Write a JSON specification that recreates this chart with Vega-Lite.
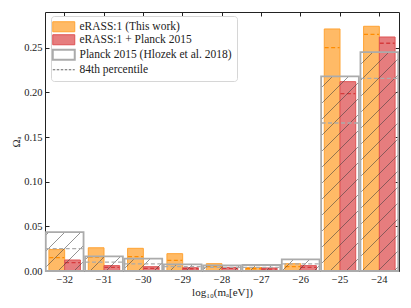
{
  "$schema": "https://vega.github.io/schema/vega-lite/v6.json",
  "width": 354,
  "height": 259,
  "autosize": {"type": "none"},
  "padding": {"left": 45, "top": 12, "right": 12, "bottom": 37},
  "background": "white",
  "config": {
    "font": "Liberation Serif",
    "view": {"stroke": "#222", "strokeWidth": 1},
    "axis": {
      "domain": false,
      "grid": false,
      "tickColor": "#222",
      "tickSize": -4,
      "labelFont": "Liberation Serif",
      "labelFontSize": 10.5,
      "labelColor": "#222",
      "titleFont": "Liberation Serif",
      "titleFontWeight": "normal",
      "titleFontSize": 11,
      "titleColor": "#222"
    },
    "legend": {
      "labelFont": "Liberation Serif",
      "labelFontSize": 11.5,
      "labelColor": "#222",
      "labelLimit": 300
    }
  },
  "resolve": {"axis": {"x": "independent", "y": "independent"}},
  "data": {
    "values": [
      {"m": -32, "series": "eRASS:1 (This work)", "value": 0.024, "p84": 0.015},
      {"m": -31, "series": "eRASS:1 (This work)", "value": 0.026, "p84": 0.0157},
      {"m": -30, "series": "eRASS:1 (This work)", "value": 0.0254, "p84": 0.016},
      {"m": -29, "series": "eRASS:1 (This work)", "value": 0.0194, "p84": 0.012},
      {"m": -28, "series": "eRASS:1 (This work)", "value": 0.0082, "p84": 0.005},
      {"m": -27, "series": "eRASS:1 (This work)", "value": 0.004, "p84": 0.0025},
      {"m": -26, "series": "eRASS:1 (This work)", "value": 0.0082, "p84": 0.005},
      {"m": -25, "series": "eRASS:1 (This work)", "value": 0.271, "p84": 0.25},
      {"m": -24, "series": "eRASS:1 (This work)", "value": 0.274, "p84": 0.265},
      {"m": -32, "series": "eRASS:1 + Planck 2015", "value": 0.0123, "p84": 0.0093},
      {"m": -31, "series": "eRASS:1 + Planck 2015", "value": 0.006, "p84": 0.004},
      {"m": -30, "series": "eRASS:1 + Planck 2015", "value": 0.0048, "p84": 0.003},
      {"m": -29, "series": "eRASS:1 + Planck 2015", "value": 0.0037, "p84": 0.0025},
      {"m": -28, "series": "eRASS:1 + Planck 2015", "value": 0.004, "p84": 0.003},
      {"m": -27, "series": "eRASS:1 + Planck 2015", "value": 0.0034, "p84": 0.002},
      {"m": -26, "series": "eRASS:1 + Planck 2015", "value": 0.006, "p84": 0.004},
      {"m": -25, "series": "eRASS:1 + Planck 2015", "value": 0.212, "p84": 0.1985},
      {"m": -24, "series": "eRASS:1 + Planck 2015", "value": 0.262, "p84": 0.255},
      {"m": -32, "series": "Planck 2015 (Hlozek et al. 2018)", "value": 0.0436, "p84": 0.025},
      {"m": -31, "series": "Planck 2015 (Hlozek et al. 2018)", "value": 0.0164, "p84": 0.010},
      {"m": -30, "series": "Planck 2015 (Hlozek et al. 2018)", "value": 0.0138, "p84": 0.008},
      {"m": -29, "series": "Planck 2015 (Hlozek et al. 2018)", "value": 0.0075, "p84": 0.005},
      {"m": -28, "series": "Planck 2015 (Hlozek et al. 2018)", "value": 0.0063, "p84": 0.004},
      {"m": -27, "series": "Planck 2015 (Hlozek et al. 2018)", "value": 0.0067, "p84": 0.004},
      {"m": -26, "series": "Planck 2015 (Hlozek et al. 2018)", "value": 0.013, "p84": 0.008},
      {"m": -25, "series": "Planck 2015 (Hlozek et al. 2018)", "value": 0.218, "p84": 0.1657},
      {"m": -24, "series": "Planck 2015 (Hlozek et al. 2018)", "value": 0.245, "p84": 0.2157}
    ]
  },
  "encoding": {
    "x": {
      "field": "m",
      "type": "ordinal",
      "sort": "ascending",
      "scale": {"paddingInner": 0, "paddingOuter": 0},
      "axis": null
    },
    "y": {
      "field": "value",
      "type": "quantitative",
      "scale": {"domain": [0, 0.29], "nice": false},
      "axis": null
    }
  },
  "layer": [
    {
      "transform": [{"filter": "datum.series != 'Planck 2015 (Hlozek et al. 2018)'"}],
      "mark": {"type": "bar", "strokeWidth": 1},
      "encoding": {
        "x": {
          "field": "m",
          "type": "ordinal",
          "sort": "ascending",
          "axis": {
            "title": "log₁₀(mₐ[eV])",
            "labelAngle": 0,
            "bandPosition": 0.5,
            "labelPadding": 7,
            "titlePadding": 2,
            "labelExpr": "replace(datum.label, '-', '−')"
          }
        },
        "y": {
          "field": "value",
          "type": "quantitative",
          "axis": {
            "title": "Ωₐ",
            "values": [0, 0.05, 0.1, 0.15, 0.2, 0.25],
            "format": ".2f",
            "labelPadding": 7,
            "titlePadding": 2
          }
        },
        "xOffset": {
          "field": "series",
          "type": "nominal",
          "scale": {"domain": ["eRASS:1 (This work)", "eRASS:1 + Planck 2015"], "paddingInner": 0, "paddingOuter": 0.25}
        },
        "fill": {
          "field": "series",
          "type": "nominal",
          "scale": {
            "domain": ["eRASS:1 (This work)", "eRASS:1 + Planck 2015", "Planck 2015 (Hlozek et al. 2018)", "84th percentile"],
            "range": ["#ffba66", "#e67d7e", "rgba(255,255,255,0)", "rgba(255,255,255,0)"]
          },
          "legend": {
            "title": null,
            "orient": "none",
            "legendX": 6,
            "legendY": 4,
            "symbolSize": 100,
            "symbolOffset": 2,
            "symbolStrokeWidth": 1,
            "labelOffset": 10,
            "rowPadding": -2,
            "padding": 5,
            "strokeColor": "#d6d6d6",
            "fillColor": "rgba(255,255,255,0.85)",
            "cornerRadius": 3,
            "encode": {
              "symbols": {
                "update": {
                  "shape": {"signal": "datum.value == '84th percentile' ? 'M-2.2,0H2.2' : 'M-2.2,-1H2.2V1H-2.2Z'"},
                  "fill": {"signal": "datum.value == 'Planck 2015 (Hlozek et al. 2018)' ? {gradient: 'linear', x1: 0, y1: 0, x2: 1.2055, y2: 0.5479, stops: [{offset: 0.469, color: 'rgba(60,60,60,0)'}, {offset: 0.5, color: 'rgba(60,60,60,0.8)'}, {offset: 0.531, color: 'rgba(60,60,60,0)'}]} : scale('fill', datum.value)"},
                  "stroke": {"signal": "datum.value == 'eRASS:1 (This work)' ? '#ffa333' : datum.value == 'eRASS:1 + Planck 2015' ? '#de5253' : datum.value == '84th percentile' ? '#666666' : '#ababab'"},
                  "strokeWidth": {"signal": "datum.value == 'Planck 2015 (Hlozek et al. 2018)' ? 2 : 1"},
                  "strokeDash": {"signal": "datum.value == '84th percentile' ? [2.5, 1.5] : []"}
                }
              }
            }
          }
        },
        "stroke": {
          "field": "series",
          "type": "nominal",
          "scale": {
            "domain": ["eRASS:1 (This work)", "eRASS:1 + Planck 2015"],
            "range": ["#ffa333", "#de5253"]
          },
          "legend": null
        }
      }
    },
    {
      "transform": [{"filter": "datum.series == 'eRASS:1 (This work)'"}],
      "mark": {"type": "rule", "color": "#ff8c00", "strokeWidth": 1.3, "strokeDash": [4, 2.5]},
      "encoding": {
        "x": {"field": "m", "type": "ordinal", "bandPosition": 0.11, "axis": null},
        "x2": {"field": "m", "bandPosition": 0.49},
        "y": {"field": "p84", "type": "quantitative", "axis": null}
      }
    },
    {
      "transform": [{"filter": "datum.series == 'eRASS:1 + Planck 2015'"}],
      "mark": {"type": "rule", "color": "#d63a3c", "strokeWidth": 1.3, "strokeDash": [4, 2.5]},
      "encoding": {
        "x": {"field": "m", "type": "ordinal", "bandPosition": 0.51, "axis": null},
        "x2": {"field": "m", "bandPosition": 0.89},
        "y": {"field": "p84", "type": "quantitative", "axis": null}
      }
    },
    {
      "transform": [{"filter": "datum.series == 'Planck 2015 (Hlozek et al. 2018)'"}],
      "mark": {"type": "bar", "stroke": "#ababab", "strokeWidth": 1.8, "width": {"band": 0.96}},
      "encoding": {
        "x": {
          "field": "m",
          "type": "ordinal",
          "sort": "ascending",
          "axis": {"orient": "top", "labels": false, "title": null, "bandPosition": 0.5}
        },
        "y": {
          "field": "value",
          "type": "quantitative",
          "axis": {"orient": "right", "labels": false, "title": null, "values": [0, 0.05, 0.1, 0.15, 0.2, 0.25]}
        },
        "fill": {
          "condition": [
            {"test": "datum.m == -32", "value": {"gradient": "linear", "x1": 0, "y1": 0, "x2": 0.9844, "y2": 1.0152, "stops": [
              {"offset": 0.0281, "color": "rgba(60,60,60,0)"}, {"offset": 0.0411, "color": "rgba(60,60,60,0.55)"}, {"offset": 0.0541, "color": "rgba(60,60,60,0)"},
              {"offset": 0.2367, "color": "rgba(60,60,60,0)"}, {"offset": 0.2497, "color": "rgba(60,60,60,0.55)"}, {"offset": 0.2627, "color": "rgba(60,60,60,0)"},
              {"offset": 0.4453, "color": "rgba(60,60,60,0)"}, {"offset": 0.4583, "color": "rgba(60,60,60,0.55)"}, {"offset": 0.4713, "color": "rgba(60,60,60,0)"},
              {"offset": 0.6539, "color": "rgba(60,60,60,0)"}, {"offset": 0.6669, "color": "rgba(60,60,60,0.55)"}, {"offset": 0.6799, "color": "rgba(60,60,60,0)"},
              {"offset": 0.8625, "color": "rgba(60,60,60,0)"}, {"offset": 0.8755, "color": "rgba(60,60,60,0.55)"}, {"offset": 0.8885, "color": "rgba(60,60,60,0)"}
            ]}},
            {"test": "datum.m == -31", "value": {"gradient": "linear", "x1": 0, "y1": 0, "x2": 1.2064, "y2": 0.4681, "stops": [
              {"offset": 0.0483, "color": "rgba(60,60,60,0)"}, {"offset": 0.0674, "color": "rgba(60,60,60,0.55)"}, {"offset": 0.0865, "color": "rgba(60,60,60,0)"},
              {"offset": 0.3535, "color": "rgba(60,60,60,0)"}, {"offset": 0.3726, "color": "rgba(60,60,60,0.55)"}, {"offset": 0.3917, "color": "rgba(60,60,60,0)"},
              {"offset": 0.6588, "color": "rgba(60,60,60,0)"}, {"offset": 0.6779, "color": "rgba(60,60,60,0.55)"}, {"offset": 0.6970, "color": "rgba(60,60,60,0)"}
            ]}},
            {"test": "datum.m == -30", "value": {"gradient": "linear", "x1": 0, "y1": 0, "x2": 1.1987, "y2": 0.3911, "stops": [
              {"offset": 0.1771, "color": "rgba(60,60,60,0)"}, {"offset": 0.1971, "color": "rgba(60,60,60,0.55)"}, {"offset": 0.2171, "color": "rgba(60,60,60,0)"},
              {"offset": 0.4966, "color": "rgba(60,60,60,0)"}, {"offset": 0.5166, "color": "rgba(60,60,60,0.55)"}, {"offset": 0.5366, "color": "rgba(60,60,60,0)"},
              {"offset": 0.8161, "color": "rgba(60,60,60,0)"}, {"offset": 0.8361, "color": "rgba(60,60,60,0.55)"}, {"offset": 0.8561, "color": "rgba(60,60,60,0)"}
            ]}},
            {"test": "datum.m == -29", "value": {"gradient": "linear", "x1": 0, "y1": 0, "x2": 1.1415, "y2": 0.2025, "stops": [
              {"offset": 0.2679, "color": "rgba(60,60,60,0)"}, {"offset": 0.2904, "color": "rgba(60,60,60,0.55)"}, {"offset": 0.3129, "color": "rgba(60,60,60,0)"},
              {"offset": 0.6277, "color": "rgba(60,60,60,0)"}, {"offset": 0.6502, "color": "rgba(60,60,60,0.55)"}, {"offset": 0.6727, "color": "rgba(60,60,60,0)"}
            ]}},
            {"test": "datum.m == -28", "value": {"gradient": "linear", "x1": 0, "y1": 0, "x2": 1.1241, "y2": 0.1676, "stops": [
              {"offset": 0.0809, "color": "rgba(60,60,60,0)"}, {"offset": 0.1039, "color": "rgba(60,60,60,0.55)"}, {"offset": 0.1269, "color": "rgba(60,60,60,0)"},
              {"offset": 0.4497, "color": "rgba(60,60,60,0)"}, {"offset": 0.4727, "color": "rgba(60,60,60,0.55)"}, {"offset": 0.4957, "color": "rgba(60,60,60,0)"},
              {"offset": 0.8184, "color": "rgba(60,60,60,0)"}, {"offset": 0.8414, "color": "rgba(60,60,60,0.55)"}, {"offset": 0.8644, "color": "rgba(60,60,60,0)"}
            ]}},
            {"test": "datum.m == -27", "value": {"gradient": "linear", "x1": 0, "y1": 0, "x2": 1.1300, "y2": 0.1790, "stops": [
              {"offset": 0.2864, "color": "rgba(60,60,60,0)"}, {"offset": 0.3093, "color": "rgba(60,60,60,0.55)"}, {"offset": 0.3322, "color": "rgba(60,60,60,0)"},
              {"offset": 0.6522, "color": "rgba(60,60,60,0)"}, {"offset": 0.6751, "color": "rgba(60,60,60,0.55)"}, {"offset": 0.6980, "color": "rgba(60,60,60,0)"}
            ]}},
            {"test": "datum.m == -26", "value": {"gradient": "linear", "x1": 0, "y1": 0, "x2": 1.1945, "y2": 0.3673, "stops": [
              {"offset": 0.2191, "color": "rgba(60,60,60,0)"}, {"offset": 0.2394, "color": "rgba(60,60,60,0.55)"}, {"offset": 0.2597, "color": "rgba(60,60,60,0)"},
              {"offset": 0.5432, "color": "rgba(60,60,60,0)"}, {"offset": 0.5635, "color": "rgba(60,60,60,0.55)"}, {"offset": 0.5838, "color": "rgba(60,60,60,0)"},
              {"offset": 0.8673, "color": "rgba(60,60,60,0)"}, {"offset": 0.8876, "color": "rgba(60,60,60,0.55)"}, {"offset": 0.9079, "color": "rgba(60,60,60,0)"}
            ]}},
            {"test": "datum.m == -25", "value": {"gradient": "linear", "x1": 0, "y1": 0, "x2": 0.22316, "y2": 1.15066, "stops": [
              {"offset": 0.0455, "color": "rgba(60,60,60,0)"}, {"offset": 0.0498, "color": "rgba(60,60,60,0.55)"}, {"offset": 0.0541, "color": "rgba(60,60,60,0)"},
              {"offset": 0.1143, "color": "rgba(60,60,60,0)"}, {"offset": 0.1186, "color": "rgba(60,60,60,0.55)"}, {"offset": 0.1229, "color": "rgba(60,60,60,0)"},
              {"offset": 0.1832, "color": "rgba(60,60,60,0)"}, {"offset": 0.1875, "color": "rgba(60,60,60,0.55)"}, {"offset": 0.1918, "color": "rgba(60,60,60,0)"},
              {"offset": 0.2520, "color": "rgba(60,60,60,0)"}, {"offset": 0.2563, "color": "rgba(60,60,60,0.55)"}, {"offset": 0.2606, "color": "rgba(60,60,60,0)"},
              {"offset": 0.3208, "color": "rgba(60,60,60,0)"}, {"offset": 0.3251, "color": "rgba(60,60,60,0.55)"}, {"offset": 0.3294, "color": "rgba(60,60,60,0)"},
              {"offset": 0.3897, "color": "rgba(60,60,60,0)"}, {"offset": 0.3940, "color": "rgba(60,60,60,0.55)"}, {"offset": 0.3983, "color": "rgba(60,60,60,0)"},
              {"offset": 0.4585, "color": "rgba(60,60,60,0)"}, {"offset": 0.4628, "color": "rgba(60,60,60,0.55)"}, {"offset": 0.4671, "color": "rgba(60,60,60,0)"},
              {"offset": 0.5273, "color": "rgba(60,60,60,0)"}, {"offset": 0.5316, "color": "rgba(60,60,60,0.55)"}, {"offset": 0.5359, "color": "rgba(60,60,60,0)"},
              {"offset": 0.5961, "color": "rgba(60,60,60,0)"}, {"offset": 0.6004, "color": "rgba(60,60,60,0.55)"}, {"offset": 0.6047, "color": "rgba(60,60,60,0)"},
              {"offset": 0.6650, "color": "rgba(60,60,60,0)"}, {"offset": 0.6693, "color": "rgba(60,60,60,0.55)"}, {"offset": 0.6736, "color": "rgba(60,60,60,0)"},
              {"offset": 0.7338, "color": "rgba(60,60,60,0)"}, {"offset": 0.7381, "color": "rgba(60,60,60,0.55)"}, {"offset": 0.7424, "color": "rgba(60,60,60,0)"},
              {"offset": 0.8026, "color": "rgba(60,60,60,0)"}, {"offset": 0.8069, "color": "rgba(60,60,60,0.55)"}, {"offset": 0.8112, "color": "rgba(60,60,60,0)"},
              {"offset": 0.8715, "color": "rgba(60,60,60,0)"}, {"offset": 0.8758, "color": "rgba(60,60,60,0.55)"}, {"offset": 0.8801, "color": "rgba(60,60,60,0)"},
              {"offset": 0.9403, "color": "rgba(60,60,60,0)"}, {"offset": 0.9446, "color": "rgba(60,60,60,0.55)"}, {"offset": 0.9489, "color": "rgba(60,60,60,0)"}
            ]}},
            {"test": "datum.m == -24", "value": {"gradient": "linear", "x1": 0, "y1": 0, "x2": 0.19650, "y2": 1.13866, "stops": [
              {"offset": 0.0443, "color": "rgba(60,60,60,0)"}, {"offset": 0.0482, "color": "rgba(60,60,60,0.55)"}, {"offset": 0.0521, "color": "rgba(60,60,60,0)"},
              {"offset": 0.1066, "color": "rgba(60,60,60,0)"}, {"offset": 0.1105, "color": "rgba(60,60,60,0.55)"}, {"offset": 0.1144, "color": "rgba(60,60,60,0)"},
              {"offset": 0.1690, "color": "rgba(60,60,60,0)"}, {"offset": 0.1729, "color": "rgba(60,60,60,0.55)"}, {"offset": 0.1768, "color": "rgba(60,60,60,0)"},
              {"offset": 0.2314, "color": "rgba(60,60,60,0)"}, {"offset": 0.2353, "color": "rgba(60,60,60,0.55)"}, {"offset": 0.2392, "color": "rgba(60,60,60,0)"},
              {"offset": 0.2937, "color": "rgba(60,60,60,0)"}, {"offset": 0.2976, "color": "rgba(60,60,60,0.55)"}, {"offset": 0.3015, "color": "rgba(60,60,60,0)"},
              {"offset": 0.3561, "color": "rgba(60,60,60,0)"}, {"offset": 0.3600, "color": "rgba(60,60,60,0.55)"}, {"offset": 0.3639, "color": "rgba(60,60,60,0)"},
              {"offset": 0.4184, "color": "rgba(60,60,60,0)"}, {"offset": 0.4223, "color": "rgba(60,60,60,0.55)"}, {"offset": 0.4262, "color": "rgba(60,60,60,0)"},
              {"offset": 0.4808, "color": "rgba(60,60,60,0)"}, {"offset": 0.4847, "color": "rgba(60,60,60,0.55)"}, {"offset": 0.4886, "color": "rgba(60,60,60,0)"},
              {"offset": 0.5432, "color": "rgba(60,60,60,0)"}, {"offset": 0.5471, "color": "rgba(60,60,60,0.55)"}, {"offset": 0.5510, "color": "rgba(60,60,60,0)"},
              {"offset": 0.6055, "color": "rgba(60,60,60,0)"}, {"offset": 0.6094, "color": "rgba(60,60,60,0.55)"}, {"offset": 0.6133, "color": "rgba(60,60,60,0)"},
              {"offset": 0.6679, "color": "rgba(60,60,60,0)"}, {"offset": 0.6718, "color": "rgba(60,60,60,0.55)"}, {"offset": 0.6757, "color": "rgba(60,60,60,0)"},
              {"offset": 0.7303, "color": "rgba(60,60,60,0)"}, {"offset": 0.7342, "color": "rgba(60,60,60,0.55)"}, {"offset": 0.7381, "color": "rgba(60,60,60,0)"},
              {"offset": 0.7926, "color": "rgba(60,60,60,0)"}, {"offset": 0.7965, "color": "rgba(60,60,60,0.55)"}, {"offset": 0.8004, "color": "rgba(60,60,60,0)"},
              {"offset": 0.8550, "color": "rgba(60,60,60,0)"}, {"offset": 0.8589, "color": "rgba(60,60,60,0.55)"}, {"offset": 0.8628, "color": "rgba(60,60,60,0)"},
              {"offset": 0.9173, "color": "rgba(60,60,60,0)"}, {"offset": 0.9212, "color": "rgba(60,60,60,0.55)"}, {"offset": 0.9251, "color": "rgba(60,60,60,0)"},
              {"offset": 0.9797, "color": "rgba(60,60,60,0)"}, {"offset": 0.9836, "color": "rgba(60,60,60,0.55)"}, {"offset": 0.9875, "color": "rgba(60,60,60,0)"}
            ]}}
          ],
          "value": "rgba(255,255,255,0)"
        }
      }
    },
    {
      "transform": [{"filter": "datum.series == 'Planck 2015 (Hlozek et al. 2018)'"}],
      "mark": {"type": "rule", "color": "#ababab", "strokeWidth": 1.3, "strokeDash": [4, 2.5]},
      "encoding": {
        "x": {"field": "m", "type": "ordinal", "bandPosition": 0.03, "axis": null},
        "x2": {"field": "m", "bandPosition": 0.97},
        "y": {"field": "p84", "type": "quantitative", "axis": null}
      }
    }
  ]
}
